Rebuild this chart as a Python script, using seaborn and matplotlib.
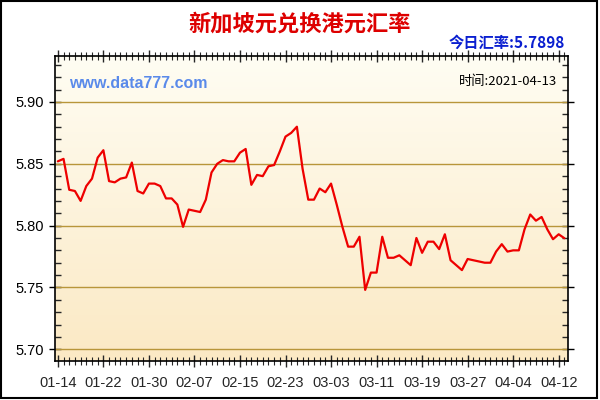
import numpy as np
import pandas as pd
import matplotlib
matplotlib.use("Agg")
import matplotlib.pyplot as plt
import matplotlib.dates as mdates
from matplotlib.ticker import MultipleLocator, FixedLocator
import seaborn as sns

title = "新加坡元兑换港元汇率"
today_label = "今日汇率:5.7898"
site_label = "www.data777.com"
time_label = "时间:2021-04-13"

start_day = "2021-01-14"
end_day = "2021-04-13"

rates = [
    5.852, 5.854, 5.829, 5.828, 5.820, 5.832, 5.838, 5.855, 5.861, 5.836,
    5.835, 5.838, 5.839, 5.851, 5.828, 5.826, 5.834, 5.834, 5.832, 5.822,
    5.822, 5.817, 5.799, 5.813, 5.812, 5.811, 5.821, 5.843, 5.850, 5.853,
    5.852, 5.852, 5.859, 5.862, 5.833, 5.841, 5.840, 5.848, 5.849, 5.860,
    5.872, 5.875, 5.880, 5.846, 5.821, 5.821, 5.830, 5.827, 5.834, 5.817,
    5.799, 5.783, 5.783, 5.791, 5.748, 5.762, 5.762, 5.791, 5.774, 5.774,
    5.776, 5.772, 5.768, 5.790, 5.778, 5.787, 5.787, 5.781, 5.793, 5.772,
    5.768, 5.764, 5.773, 5.772, 5.771, 5.770, 5.770, 5.779, 5.785, 5.779,
    5.780, 5.780, 5.797, 5.809, 5.804, 5.807, 5.797, 5.789, 5.793, 5.7898,
]

y_ticks = [5.70, 5.75, 5.80, 5.85, 5.90]

dates = pd.date_range(start_day, end_day, freq="D")
df = pd.DataFrame({"date": dates, "rate": rates})

sns.set_style("ticks")
plt.rcParams["font.family"] = ["Liberation Sans", "Noto Sans CJK SC", "DejaVu Sans"]

fig = plt.figure(figsize=(6, 4), dpi=100)
fig.patch.set_facecolor("white")
ax = fig.add_axes([55 / 600, 1 - 361 / 400, 512.7 / 600, 305 / 400])

# background gradient, light at top
grad = np.linspace(0, 1, 256).reshape(-1, 1)
cmap = matplotlib.colors.LinearSegmentedColormap.from_list(
    "bg", ["#FFFDF3", "#FBE9C4"]
)
ax.imshow(grad, cmap=cmap, aspect="auto", extent=[0, 1, 0, 1],
          origin="upper", transform=ax.transAxes, zorder=0)

for v in y_ticks:
    ax.axhline(v, color="#B8963A", linewidth=1, zorder=1)

sns.lineplot(data=df, x="date", y="rate", ax=ax, color="#EE0000",
             linewidth=1.6, zorder=3)

ax.set_ylim(5.6905, 5.9372)
ax.set_xlim(dates[0] - pd.Timedelta(hours=12), dates[-1] + pd.Timedelta(hours=14))
ax.set_xlabel("")
ax.set_ylabel("")

ax.set_yticks(y_ticks)
ax.set_yticklabels([f"{v:.2f}" for v in y_ticks], fontsize=10.5)
ax.yaxis.set_minor_locator(MultipleLocator(0.01))

major_dates = dates[::8]
ax.xaxis.set_major_locator(FixedLocator(mdates.date2num(major_dates)))
ax.xaxis.set_minor_locator(FixedLocator(mdates.date2num(dates)))
ax.xaxis.set_major_formatter(mdates.DateFormatter("%m-%d"))
for lab in ax.get_xticklabels():
    lab.set_fontsize(10.5)

ax.tick_params(axis="y", which="major", direction="inout", length=8, width=1,
               right=True, labelright=False, colors="black", pad=4)
ax.tick_params(axis="y", which="minor", direction="in", length=4, width=1,
               right=True, left=True)
ax.tick_params(axis="x", which="major", direction="inout", length=9, width=1,
               top=True, pad=6)
ax.tick_params(axis="x", which="minor", direction="inout", length=6, width=0.8,
               top=True)

for s in ax.spines.values():
    s.set_visible(True)
    s.set_color("black")
    s.set_linewidth(1.2)

fig.text(0.5, 1 - 24 / 400, title, ha="center", va="center", fontsize=16,
         fontweight="heavy", color="#DD0000",
         family=["Noto Sans CJK SC", "DejaVu Sans"])
fig.text(565 / 600, 1 - 43 / 400, today_label, ha="right", va="center",
         fontsize=11, fontweight="bold", color="#0A1FD0",
         family=["Noto Sans CJK SC", "DejaVu Sans"])
fig.text(69 / 600, 1 - 84 / 400, site_label, ha="left", va="center",
         fontsize=11.5, fontweight="bold", color="#5A8AEA",
         family=["Liberation Sans", "DejaVu Sans"])
fig.text(557 / 600, 1 - 81 / 400, time_label, ha="right", va="center",
         fontsize=9.5, color="black",
         family=["Noto Sans CJK SC", "DejaVu Sans"])

# outer frame
frame = plt.Rectangle((0.002, 0.004), 0.993, 0.993, transform=fig.transFigure,
                      fill=False, edgecolor="black", linewidth=1.5)
fig.patches.append(frame)

fig.savefig("out.png", dpi=100)
